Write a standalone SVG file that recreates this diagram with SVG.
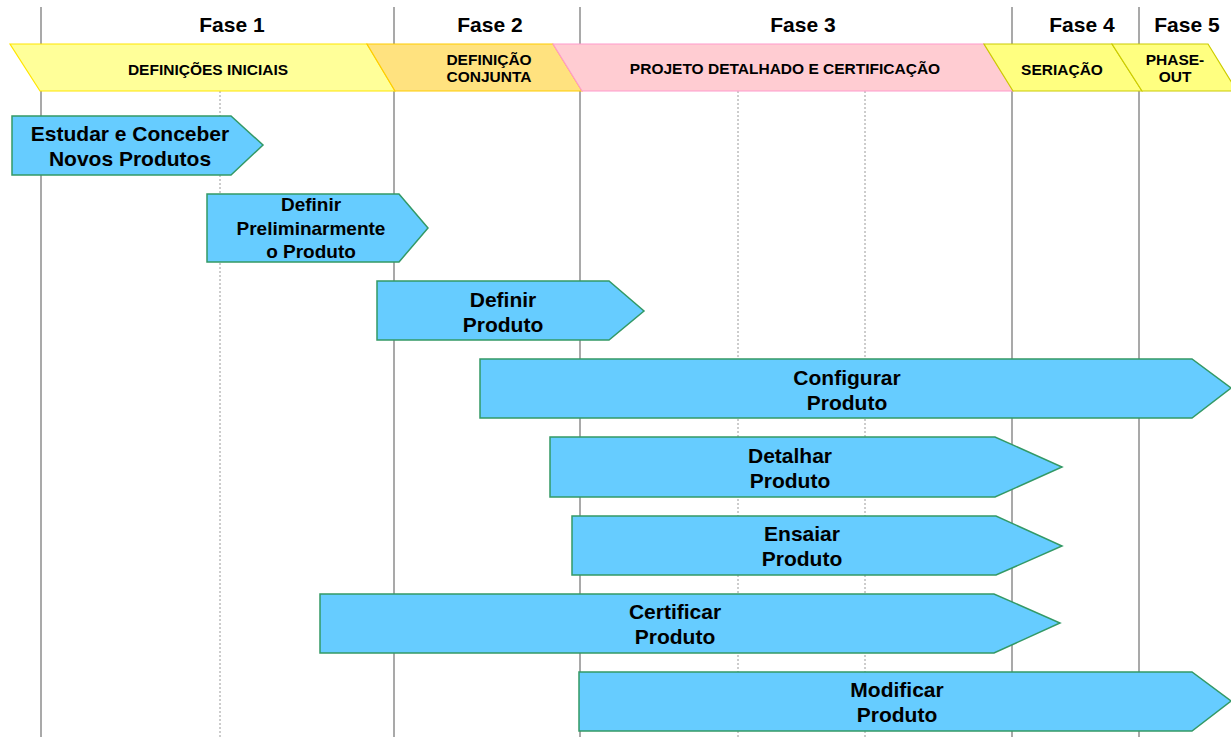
<svg xmlns="http://www.w3.org/2000/svg" width="1231" height="737" viewBox="0 0 1231 737">
<style>
.grid{stroke:#8c8c8c;stroke-width:1.5}
.dot{stroke:#9a9a9a;stroke-width:1;stroke-dasharray:2,2}
.fase{font-family:"Liberation Sans",Arial,sans-serif;font-weight:bold;font-size:21px;fill:#000;text-anchor:middle}
.band{font-family:"Liberation Sans",Arial,sans-serif;font-weight:bold;font-size:15.5px;fill:#000;text-anchor:middle}
.arrow{fill:#66CCFF;stroke:#339966;stroke-width:1.5}
.lbl{font-family:"Liberation Sans",Arial,sans-serif;font-weight:bold;font-size:21px;fill:#000;text-anchor:middle}
.lbl2{font-family:"Liberation Sans",Arial,sans-serif;font-weight:bold;font-size:19px;fill:#000;text-anchor:middle}
</style>
<rect width="1231" height="737" fill="#fff"/>
<g id="grid">
<line class="grid" x1="41" y1="7" x2="41" y2="737"/>
<line class="grid" x1="394" y1="7" x2="394" y2="737"/>
<line class="grid" x1="580" y1="7" x2="580" y2="737"/>
<line class="grid" x1="1012" y1="7" x2="1012" y2="737"/>
<line class="grid" x1="1139" y1="7" x2="1139" y2="737"/>
<line class="dot" x1="220" y1="91" x2="220" y2="737"/>
<line class="dot" x1="738" y1="91" x2="738" y2="737"/>
<line class="dot" x1="865" y1="91" x2="865" y2="737"/>
</g>
<g id="fases">
<text class="fase" x="232" y="32">Fase 1</text>
<text class="fase" x="490" y="32">Fase 2</text>
<text class="fase" x="803" y="32">Fase 3</text>
<text class="fase" x="1082" y="32">Fase 4</text>
<text class="fase" x="1187" y="32">Fase 5</text>
</g>
<g id="band-definicoes">
<polygon points="10,44 367,44 395,91 40,91" fill="#FFFF99" stroke="#FFE500" stroke-width="1.2"/>
<text class="band" x="208" y="75">DEFINIÇÕES INICIAIS</text>
</g>
<g id="band-conjunta">
<polygon points="367,44 553,44 582,91 395,91" fill="#FFE27F" stroke="#FFCC00" stroke-width="1.2"/>
<text class="band" x="489" y="65">DEFINIÇÃO</text>
<text class="band" x="489" y="82">CONJUNTA</text>
</g>
<g id="band-projeto">
<polygon points="553,44 984,44 1013,91 582,91" fill="#FFCCD2" stroke="#FF99CC" stroke-width="1.2"/>
<text class="band" x="785" y="74">PROJETO DETALHADO E CERTIFICAÇÃO</text>
</g>
<g id="band-seriacao">
<polygon points="984,44 1112,44 1142,91 1013,91" fill="#FFFF80" stroke="#CCCC00" stroke-width="1.2"/>
<text class="band" x="1062" y="75">SERIAÇÃO</text>
</g>
<g id="band-phaseout">
<polygon points="1112,44 1208,44 1237,91 1142,91" fill="#FFFF80" stroke="#CCCC00" stroke-width="1.2"/>
<text class="band" x="1175" y="65">PHASE-</text>
<text class="band" x="1175" y="82">OUT</text>
</g>
<g id="estudar">
<polygon class="arrow" points="12,116 231,116 263,145 231,175 12,175"/>
<text class="lbl" x="130" y="141">Estudar e Conceber</text>
<text class="lbl" x="130" y="166">Novos Produtos</text>
</g>
<g id="definir-prelim">
<polygon class="arrow" points="207,194 399,194 428,228 399,262 207,262"/>
<text class="lbl2" x="311" y="211">Definir</text>
<text class="lbl2" x="311" y="235">Preliminarmente</text>
<text class="lbl2" x="311" y="258">o Produto</text>
</g>
<g id="definir">
<polygon class="arrow" points="377,281 609,281 644,311 609,340 377,340"/>
<text class="lbl" x="503" y="307">Definir</text>
<text class="lbl" x="503" y="332">Produto</text>
</g>
<g id="configurar">
<polygon class="arrow" points="480,359 1192,359 1231,388 1192,418 480,418"/>
<text class="lbl" x="847" y="385">Configurar</text>
<text class="lbl" x="847" y="410">Produto</text>
</g>
<g id="detalhar">
<polygon class="arrow" points="550,437 995,437 1062,467 995,497 550,497"/>
<text class="lbl" x="790" y="463">Detalhar</text>
<text class="lbl" x="790" y="488">Produto</text>
</g>
<g id="ensaiar">
<polygon class="arrow" points="572,516 996,516 1062,546 996,575 572,575"/>
<text class="lbl" x="802" y="541">Ensaiar</text>
<text class="lbl" x="802" y="566">Produto</text>
</g>
<g id="certificar">
<polygon class="arrow" points="320,594 994,594 1060,623 994,653 320,653"/>
<text class="lbl" x="675" y="619">Certificar</text>
<text class="lbl" x="675" y="644">Produto</text>
</g>
<g id="modificar">
<polygon class="arrow" points="579,672 1192,672 1231,701 1192,731 579,731"/>
<text class="lbl" x="897" y="697">Modificar</text>
<text class="lbl" x="897" y="722">Produto</text>
</g>
<g id="connectors"></g>
</svg>
